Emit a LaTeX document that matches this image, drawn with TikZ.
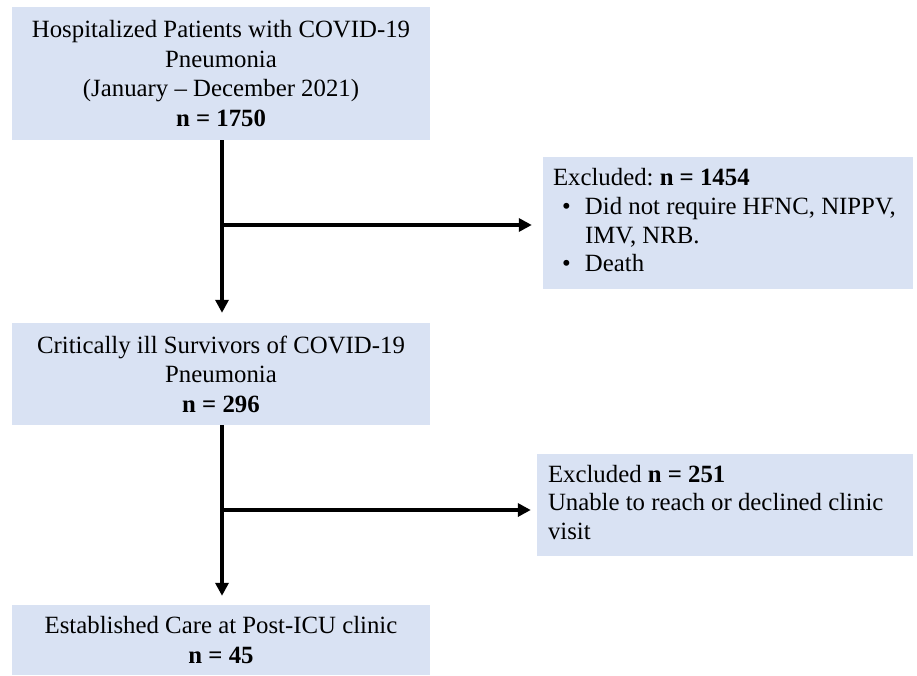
\documentclass[tikz,border=0pt]{standalone}
\usepackage{fontspec}
\setmainfont{Liberation Serif}
\usetikzlibrary{arrows.meta}
\definecolor{boxblue}{RGB}{217,226,243}
\newcommand{\bulitem}{\hspace*{9pt}\makebox[23pt][l]{•}}
\begin{document}
\frenchspacing
\begin{tikzpicture}[x=1pt,y=-1pt,
  box/.style={fill=boxblue, draw=none, inner sep=0pt, font=\fontsize{24.8}{29.5}\selectfont, align=center},
  sidebox/.style={fill=boxblue, draw=none, inner sep=0pt, font=\fontsize{24.8}{28.7}\selectfont},
  flow/.style={line width=3.6pt, -{Triangle[length=13pt,width=13pt]}}]
\useasboundingbox (0,0) rectangle (917,676);
\fill[white] (0,0) rectangle (917,676);
\node[box, minimum width=418pt, minimum height=133pt] (b1) at (221,73.5)
  {Hospitalized Patients with COVID-19\\Pneumonia\\(January -- December 2021)\\\textbf{n = 1750}};
\node[sidebox, minimum height=132pt] (b2) at (728,223)
  {\makebox[370pt][l]{\hspace{10pt}\begin{tabular}{@{}l@{}}
   Excluded: \textbf{n = 1454}\\
   \bulitem Did not require HFNC, NIPPV,\\
   \hspace*{32pt}IMV, NRB.\\
   \bulitem Death
   \end{tabular}}};
\node[box, minimum width=418pt, minimum height=102pt] (b3) at (221,374)
  {Critically ill Survivors of COVID-19\\Pneumonia\\\textbf{n = 296}};
\node[sidebox, minimum height=102pt] (b4) at (725,505)
  {\makebox[376pt][l]{\hspace{11pt}\begin{tabular}{@{}l@{}}
   Excluded \textbf{n = 251}\\
   Unable to reach or declined clinic\\
   visit
   \end{tabular}}};
\node[box, minimum width=418pt, minimum height=70pt] (b5) at (221,640)
  {Established Care at Post-ICU clinic\\\textbf{n = 45}};
\coordinate (j1) at ([xshift=1pt]b1.south |- 0,225);
\coordinate (j2) at ([xshift=1pt]b3.south |- 0,510);
\draw[flow, shorten >=10pt] ([xshift=1pt]b1.south) -- ([xshift=1pt]b3.north);
\draw[flow, shorten >=11pt] (j1) -- (b2.west |- j1);
\draw[flow, shorten >=9pt] ([xshift=1pt]b3.south) -- ([xshift=1pt]b5.north);
\draw[flow, shorten >=6pt] (j2) -- (b4.west |- j2);
\end{tikzpicture}
\end{document}
